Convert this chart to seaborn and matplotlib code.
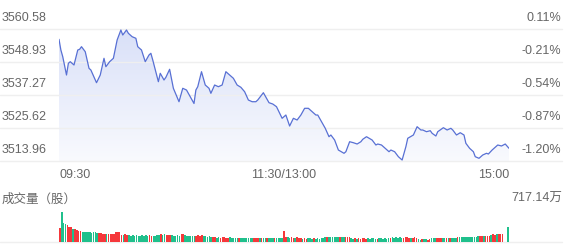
import numpy as np
import pandas as pd
import matplotlib
matplotlib.use("Agg")
import matplotlib.pyplot as plt
import seaborn as sns
from matplotlib import transforms
from matplotlib.patches import Polygon
from matplotlib.colors import LinearSegmentedColormap

# ---------------- data ----------------
minutes = [0, 1, 2, 4, 5, 6, 8, 10, 11, 12, 14, 16, 17, 20, 22, 24, 25, 27, 29, 31, 33, 34, 36, 37, 39,
           41, 42, 44, 46, 48, 49, 50, 53, 54, 56, 57, 59, 61, 64, 66, 68, 70, 72, 73, 74, 76, 78, 80,
           81, 83, 85, 87, 89, 91, 93, 95, 97, 99, 101, 103, 105, 106, 109, 112, 114, 116, 119, 121,
           123, 125, 127, 129, 131, 133, 135, 137, 138, 140, 142, 144, 145, 147, 149, 152, 153, 155,
           157, 159, 161, 162, 164, 167, 169, 170, 172, 174, 176, 177, 179, 181, 183, 185, 186, 189,
           191, 193, 194, 196, 198, 199, 201, 202, 205, 207, 209, 210, 212, 214, 216, 217, 219, 221,
           222, 224, 226, 228, 229, 231, 233, 234, 236, 238, 240]
prices = [3556.94, 3553.16, 3550.80, 3544.33, 3548.47, 3549.03, 3547.87, 3553.16, 3553.41, 3554.33,
          3552.56, 3546.70, 3546.10, 3541.61, 3544.33, 3550.23, 3547.26, 3549.03, 3550.23, 3556.69,
          3560.23, 3558.46, 3560.23, 3559.06, 3557.86, 3557.30, 3554.33, 3553.16, 3549.03, 3551.40,
          3552.00, 3549.63, 3541.97, 3544.93, 3542.57, 3543.52, 3546.35, 3539.64, 3534.90, 3539.64,
          3539.03, 3536.67, 3534.27, 3539.03, 3540.20, 3545.50, 3540.80, 3539.64, 3537.87, 3540.80,
          3540.20, 3540.80, 3545.50, 3544.33, 3543.17, 3540.80, 3539.99, 3538.43, 3535.50, 3534.90,
          3534.90, 3535.50, 3538.08, 3534.55, 3534.09, 3533.14, 3529.04, 3530.20, 3526.32, 3529.04,
          3528.44, 3530.20, 3532.57, 3532.57, 3531.37, 3530.20, 3530.20, 3527.84, 3525.51, 3522.54,
          3523.14, 3521.37, 3517.84, 3516.68, 3517.24, 3520.77, 3520.42, 3519.96, 3520.77, 3521.62,
          3522.54, 3521.37, 3519.61, 3519.96, 3519.61, 3518.44, 3517.24, 3517.84, 3517.24, 3515.48,
          3514.31, 3519.01, 3521.98, 3523.14, 3526.07, 3524.91, 3524.91, 3524.31, 3524.66, 3523.74,
          3522.79, 3524.31, 3525.72, 3524.91, 3525.51, 3524.91, 3523.14, 3523.95, 3523.14, 3520.21,
          3518.44, 3517.24, 3515.48, 3514.91, 3516.08, 3516.68, 3516.43, 3517.84, 3519.01, 3519.61,
          3519.26, 3519.96, 3518.44]

# volume per minute, in 万股
volumes = [335, 717.14, 454, 420, 395, 365, 350, 320, 300, 290, 265, 258,
           240, 236, 245, 230, 238, 226, 232, 240, 222,
           212, 205,
           195, 188, 192, 185, 196, 180, 190,
           235, 245, 228,
           178, 172, 182, 168,
           160, 152, 158, 148, 165, 155, 150, 162, 145, 158, 150, 160, 155, 148, 152, 158,
           175, 180, 170, 185, 176, 172, 178,
           158, 150, 155, 162, 148,
           180, 185, 172,
           145, 140, 150, 138, 142,
           155, 160, 150, 158, 152,
           132, 128, 135, 125, 130,
           110, 105, 112, 102, 108, 115, 104, 100, 110, 106, 98,
           96, 92, 100, 95, 90, 98, 94, 102, 96, 92, 98, 94, 100, 90, 96, 92, 98, 95, 100, 93,
           97, 91, 96, 94, 99, 92,
           265,
           108, 112, 104, 110, 106, 100, 108, 102,
           85, 82, 88, 80, 86, 84, 78, 90, 83, 87, 81, 85, 88,
           118, 122, 115, 125, 120, 112, 118, 124, 116, 120, 114, 122, 118, 112,
           84, 80, 88, 82, 86, 78, 85, 90, 82, 84, 80, 86, 88, 82, 78, 85, 84, 80, 87, 83, 86, 88,
           108, 104, 112, 100, 110, 106, 102, 108, 112, 104, 100, 106, 110, 104,
           62, 58, 66, 60, 64, 56, 62,
           96, 92, 100, 94, 98, 90, 96, 102, 94, 98, 92, 96, 100, 95,
           118, 122, 114, 120, 125, 116, 120, 124, 118, 122, 126,
           140, 145, 138, 148, 142, 150, 146,
           175, 182, 178, 185, 180,
           200, 195,
           0, 0,
           358]

# r = up (red), g = down (green), one char per minute
directions = "".join([
    "r", "ggg", "rrr", "g", "rrrr", "ggggggggg", "rrrr", "g", "rrrrrrrr", "g", "rr",
    "ggggggggggg", "rr", "gggg", "r", "gg", "rrr", "ggggg", "rr", "gggggg", "rrrr", "ggggg",
    "rr", "gg", "rrrr", "r", "ggggg", "r", "ggggg", "ggrrrgr", "ggrgggrgggg", "r", "rg",
    "grrgrrrgrrg", "ggrggggggrggggggrgg", "rrrggrgrrrrrgg", "gggrggggggrgggggg", "rrrrgrrr",
    "ggrggrrgggrrr", "ggrgrgggrggggggggggg", "rrgrrrgrrgrrr", "ggg",
])

price_ticks = [3560.58, 3548.93, 3537.27, 3525.62, 3513.96]
pct_labels = ["0.11%", "-0.21%", "-0.54%", "-0.87%", "-1.20%"]
time_ticks = [0, 120, 240]
time_labels = ["09:30", "11:30/13:00", "15:00"]
vol_title = "成交量（股）"
vol_max = 717.14
vol_max_label = "717.14万"

assert len(minutes) == len(prices)
assert len(volumes) == 241 and len(directions) == 241

# ---------------- style ----------------
sns.set_theme(style="white")
plt.rcParams["font.family"] = ["Liberation Sans", "Noto Sans CJK SC", "DejaVu Sans"]

W, H = 580, 247
fig = plt.figure(figsize=(W / 100, H / 100), dpi=100)
fig.patch.set_facecolor("white")


def rect(x0, y0, x1, y1):
    return [x0 / W, 1 - y1 / H, (x1 - x0) / W, (y1 - y0) / H]


ax = fig.add_axes(rect(59, 29, 509, 161))
axv = fig.add_axes(rect(59, 212, 509, 242))

line_color = "#5870d4"
grid_color = "#efefef"
text_color = "#666666"
up_color = "#f5383b"
down_color = "#20c08c"

ymin, ymax = price_ticks[-1], price_ticks[0]

# price line
df = pd.DataFrame({"minute": minutes, "price": prices})
sns.lineplot(data=df, x="minute", y="price", ax=ax, color=line_color, linewidth=0.9, zorder=3)

# gradient fill under line
verts = [(minutes[0], ymin)] + list(zip(minutes, prices)) + [(minutes[-1], ymin)]
poly = Polygon(verts, closed=True, facecolor="none", edgecolor="none")
ax.add_patch(poly)
cmap = LinearSegmentedColormap.from_list("fillgrad", ["#f9fafe", "#d9e0f8"])
grad = np.linspace(0, 1, 256).reshape(-1, 1)
im = ax.imshow(grad, cmap=cmap, aspect="auto", origin="lower",
               extent=[minutes[0], minutes[-1], ymin, ymax], zorder=1)
im.set_clip_path(poly)

ax.set_xlim(0, 240)
ax.set_ylim(ymin, ymax)
ax.set_axis_off()

gx0 = -59 / 450
gx1 = (562 - 59) / 450
for v in price_ticks:
    ax.axhline(v, xmin=gx0, xmax=gx1, color=grid_color, lw=1, clip_on=False, zorder=2)

left_tr = transforms.offset_copy(
    transforms.blended_transform_factory(fig.transFigure, ax.transData), fig=fig, y=8, units="dots")
right_tr = left_tr
for v, p in zip(price_ticks, pct_labels):
    fig.text(2 / W, v, f"{v:.2f}", transform=left_tr, ha="left", va="baseline",
             fontsize=9, color=text_color)
    fig.text(561 / W, v, p, transform=right_tr, ha="right", va="baseline",
             fontsize=9, color=text_color)

# time labels
time_tr = transforms.blended_transform_factory(ax.transData, fig.transFigure)
has = ["left", "center", "right"]
for t, lab, ha in zip(time_ticks, time_labels, has):
    ax.text(t, 1 - 175 / H, lab, transform=time_tr, ha=ha, va="center",
            fontsize=9, color=text_color)

# volume bars
vdf = pd.DataFrame({"minute": list(range(241)), "vol": volumes, "dir": list(directions)})
sns.barplot(data=vdf, x="minute", y="vol", hue="dir",
            palette={"r": up_color, "g": down_color}, dodge=False, legend=False,
            width=0.85, saturation=1, errorbar=None, linewidth=0, ax=axv, zorder=2)
axv.set_xlim(-0.5, 240.5)
axv.set_ylim(0, vol_max)
axv.set_axis_off()
axv.axhline(0, xmin=gx0, xmax=gx1, color=grid_color, lw=1, clip_on=False, zorder=1)

fig.text(2 / W, 1 - 200 / H, vol_title, ha="left", va="center", fontsize=9, color=text_color)
fig.text(562 / W, 1 - 199 / H, vol_max_label, ha="right", va="center", fontsize=9,
         color=text_color)

fig.savefig("out.png", dpi=100, facecolor="white")
